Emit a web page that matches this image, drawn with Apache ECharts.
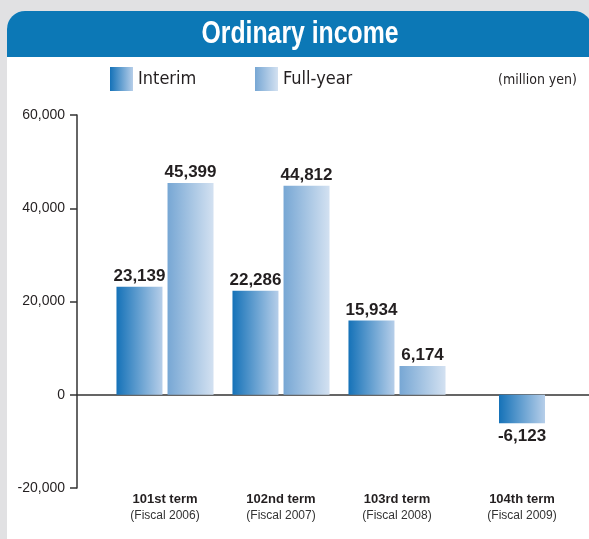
<!DOCTYPE html>
<html>
<head>
<meta charset="utf-8">
<title>Ordinary income</title>
<script src="https://cdn.jsdelivr.net/npm/echarts@6/dist/echarts.min.js"></script>
<style>
    html, body { margin: 0; padding: 0; background: #e1e1e3; }
    #main { width: 589px; height: 539px; }
</style>
</head>
<body>
<div id="main"></div>
<script>
// 决算期
var terms = ['101st term', '102nd term', '103rd term', '104th term'];
var fiscal = ['(Fiscal 2006)', '(Fiscal 2007)', '(Fiscal 2008)', '(Fiscal 2009)'];
// 经常利润 (million yen)
var interim = [23139, 22286, 15934, -6123];
var fullYear = [45399, 44812, 6174, null];
// 纵轴刻度
var yTicks = [-20000, 0, 20000, 40000, 60000];

var condensed = '"DejaVu Sans Condensed", "Liberation Sans", sans-serif';
var plain = '"Liberation Sans", Arial, sans-serif';
var ink = '#231f20';

function fmt(v) {
    return Number(v).toLocaleString('en-US');
}
function grad(c1, c2) {
    return new echarts.graphic.LinearGradient(0, 0, 1, 0, [
        {offset: 0, color: c1},
        {offset: 1, color: c2}
    ]);
}
var interimColor = grad('#1572b8', '#b6cee9');
var fullColor = grad('#77a7d4', '#d3e1f1');

var yMin = yTicks[0], yMax = yTicks[yTicks.length - 1], yStep = yTicks[1] - yTicks[0];

var catLabel = {
    margin: 3,
    interval: 0,
    formatter: function (v) {
        return '{b|' + v + '}\n{n|' + fiscal[terms.indexOf(v)] + '}';
    },
    rich: {
        b: {fontFamily: plain, fontWeight: 'bold', fontSize: 13, color: ink, lineHeight: 17},
        n: {fontFamily: plain, fontSize: 12, color: '#333', lineHeight: 16}
    }
};
var valLabel = {
    show: true,
    position: 'top',
    distance: 2,
    fontFamily: plain,
    fontWeight: 'bold',
    fontSize: 17,
    color: ink,
    formatter: function (p) { return fmt(p.value); }
};
var hiddenY = function (idx) {
    return {type: 'value', gridIndex: idx, min: yMin, max: yMax, interval: yStep, show: false};
};
var legendBase = {
    padding: 0, icon: 'rect', itemWidth: 23, itemHeight: 24, itemGap: 5,
    textStyle: {fontFamily: condensed, fontSize: 18, color: ink}
};

var chart = echarts.init(document.getElementById('main'));
chart.setOption({
    animation: false,
    backgroundColor: '#e1e1e3',
    graphic: [
        {type: 'rect', z: -10, shape: {x: 7, y: 11, width: 585, height: 560, r: 18}, style: {fill: '#ffffff'}},
        {type: 'rect', z: -9, shape: {x: 7, y: 11, width: 585, height: 46, r: [18, 18, 0, 0]}, style: {fill: '#0c78b6'}},
        // 标题 (横向压缩模拟窄体字)
        {
            type: 'group', x: 300, y: 34, scaleX: 0.8,
            children: [{
                type: 'text',
                style: {
                    text: 'Ordinary income', x: 0, y: 0,
                    align: 'center', verticalAlign: 'middle',
                    font: 'bold 31px "Liberation Sans", Arial, sans-serif',
                    fill: '#ffffff'
                }
            }]
        }
    ],
    title: {
        text: '(million yen)',
        left: 498,
        top: 73,
        padding: 0,
        textStyle: {fontFamily: condensed, fontWeight: 'normal', fontSize: 14, color: ink}
    },
    legend: [
        Object.assign({data: ['Interim'], left: 110, top: 67}, legendBase),
        Object.assign({data: ['Full-year'], left: 255, top: 67}, legendBase)
    ],
    grid: [
        // 坐标轴框
        {left: 77, right: 0, top: 115, bottom: 51},
        // 101-103期
        {left: 107, width: 348, top: 115, bottom: 51},
        // 104期
        {left: 464, width: 116, top: 115, bottom: 51}
    ],
    xAxis: [
        {
            type: 'category', gridIndex: 0, data: terms,
            axisLine: {onZero: true, lineStyle: {color: '#333', width: 1.5}},
            axisTick: {show: false}, axisLabel: {show: false}
        },
        {
            type: 'category', gridIndex: 1, data: terms.slice(0, 3),
            axisLine: {show: false, onZero: false}, axisTick: {show: false},
            axisLabel: catLabel
        },
        {
            type: 'category', gridIndex: 2, data: terms.slice(3),
            axisLine: {show: false, onZero: false}, axisTick: {show: false},
            axisLabel: catLabel
        }
    ],
    yAxis: [
        {
            type: 'value', gridIndex: 0, min: yMin, max: yMax, interval: yStep,
            axisLine: {show: true, lineStyle: {color: '#333', width: 1.5}},
            axisTick: {show: true, length: 7, lineStyle: {color: '#333', width: 1.5}},
            axisLabel: {
                margin: 12, fontFamily: plain, fontSize: 14, color: ink,
                formatter: function (v) { return fmt(v); }
            },
            splitLine: {show: false}
        },
        hiddenY(1),
        hiddenY(2)
    ],
    series: [
        {
            name: 'Interim', type: 'bar', xAxisIndex: 1, yAxisIndex: 1,
            barWidth: 46, barGap: '11%',
            itemStyle: {color: interimColor},
            label: valLabel,
            data: interim.slice(0, 3)
        },
        {
            name: 'Full-year', type: 'bar', xAxisIndex: 1, yAxisIndex: 1,
            barWidth: 46, barGap: '11%',
            itemStyle: {color: fullColor},
            label: valLabel,
            data: fullYear.slice(0, 3)
        },
        {
            name: 'Interim', type: 'bar', xAxisIndex: 2, yAxisIndex: 2,
            barWidth: 46,
            itemStyle: {color: interimColor},
            label: Object.assign({}, valLabel, {position: 'bottom', distance: 5}),
            data: interim.slice(3)
        }
    ]
});
</script>
</body>
</html>
